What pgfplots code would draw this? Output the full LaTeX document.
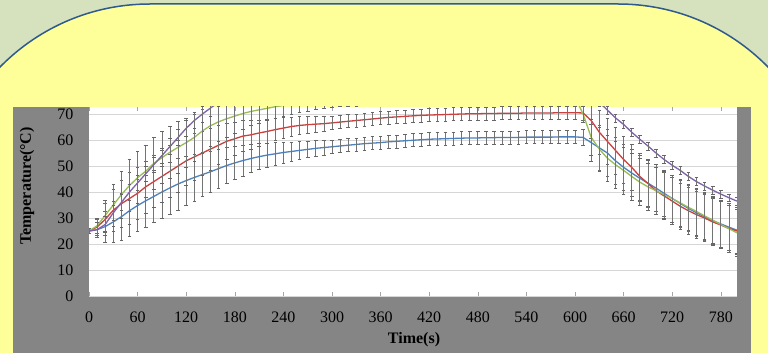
\documentclass[border=0pt]{standalone}
\usepackage{pgfplots}
\pgfplotsset{compat=1.18}
\usepackage{pgfplotstable}
\usepackage{fontspec}
\setmainfont{Liberation Serif}
\definecolor{bggreen}{HTML}{D6E1BE}
\definecolor{panelyellow}{HTML}{FFFF99}
\definecolor{borderblue}{HTML}{2E5A8C}
\definecolor{chartgray}{HTML}{858585}
\definecolor{cR}{HTML}{C8413E}
\definecolor{cB}{HTML}{4F81BD}
\definecolor{cG}{HTML}{9BBB59}
\definecolor{cP}{HTML}{7F62A8}

\pgfplotstableread{
t R B G P e pe
0 25 25 25 25 1 1
10 26.5 25.5 27 25.5 3 3
20 29.5 26.7 31 27.5 6 3
30 33 28.5 35 32 8 3
40 35.5 30.5 39 36 9 3
50 37.5 32.8 42.5 40 10 3
60 39.5 34.8 45.5 43.5 10 3
70 42 36.6 48 47 10 3
80 44 38.3 51 50.5 10 3
90 46 40 53.2 54 10 3
100 48 41.6 55.3 57.5 10 3
110 50 43.1 57.2 61 10 3
120 52 44.4 59 64.5 9.5 3
130 53.5 45.6 61 67.5 9 3
140 55 46.7 63.5 70 8.5 3
150 56.5 47.8 65.5 72.3 8 3
160 58 49 67 74.5 7.5 1.5
170 59.5 50.2 68.2 76.5 7 1.5
180 60.5 51.2 69.2 78 6.5 1.5
190 61.5 52.1 70.2 79.3 6 1.5
200 62 52.9 71 80.3 5.5 1.5
210 62.7 53.6 71.6 81 5 1.5
220 63.3 54.2 72.2 81.6 4.6 1.5
230 64 54.7 72.8 82 4.3 1.5
240 64.6 55.2 73.3 82.4 4 1.5
250 65.2 55.6 73.7 82.7 3.7 1.5
260 65.6 56 74.1 83 3.4 1.5
270 65.9 56.4 74.4 83.2 3.2 1.5
280 66.1 56.8 74.7 83.4 3 1.5
290 66.3 57.1 75 83.6 2.8 1.5
300 66.6 57.4 75.2 83.7 2.6 1.5
310 66.9 57.7 75.4 83.8 2.5 1.5
320 67.2 58 75.5 83.9 2.5 1.5
330 67.5 58.3 75.6 84 2.5 1.5
340 67.8 58.6 75.7 84 2.5 1.5
350 68.1 58.8 75.8 84.1 2.5 1.5
360 68.4 59 75.9 84.1 2.5 1.5
370 68.7 59.3 76 84.2 2.5 1.5
380 68.9 59.5 76 84.2 2.5 1.5
390 69.1 59.7 76.1 84.2 2.5 1.5
400 69.3 59.9 76.1 84.3 2.5 1.5
410 69.5 60.1 76.2 84.3 2.5 1.5
420 69.6 60.3 76.2 84.3 2.5 1.5
430 69.7 60.4 76.2 84.3 2.5 1.5
440 69.8 60.5 76.3 84.4 2.5 1.5
450 69.9 60.6 76.3 84.4 2.5 1.5
460 70 60.7 76.3 84.4 2.5 1.5
470 70.1 60.8 76.4 84.4 2.5 1.5
480 70.1 60.8 76.4 84.4 2.5 1.5
490 70.2 60.9 76.4 84.5 2.5 1.5
500 70.2 60.9 76.4 84.5 2.5 1.5
510 70.3 61 76.5 84.5 2.5 1.5
520 70.3 61 76.5 84.5 2.5 1.5
530 70.3 61 76.5 84.5 2.5 1.5
540 70.4 61.1 76.5 84.5 2.5 1.5
550 70.4 61.1 76.5 84.5 2.5 1.5
560 70.4 61.1 76.5 84.5 2.5 1.5
570 70.4 61.1 76.5 84.5 2.5 1.5
580 70.5 61.2 76.5 84.5 2.5 1.5
590 70.5 61.2 76.5 84.5 2.5 1.5
600 70.5 61.2 76.5 84.5 2.5 1.5
610 70.4 61 70 83 3 1.5
620 67.5 59 61 79 7 1.5
630 63 57 56.5 74.5 8.5 1.5
640 59.5 55 53 71.5 9 1.5
650 56 52 50.5 68.5 9 1.5
660 52.5 49.5 48.3 66 9 1.5
670 49.5 47.3 46 63 9 1.5
680 46 45.3 43.8 60.3 9 1.5
690 43.3 43.4 42 57.7 9 1.5
700 40.5 41.5 40.5 55 9 1.5
710 38.5 39.5 39 52.5 9 1.5
720 36.5 37.5 37.5 50.3 9 1.5
730 34.5 35.6 35.8 48.3 9 1.5
740 32.8 33.7 34.1 46 9 1.5
750 31.3 32 32.5 44 9 1.5
760 30 30.5 30.8 42.3 9 1.5
770 28.5 29 29.2 40.7 9 1.5
780 27.3 27.7 27.5 39.2 9 1.5
790 26 26.5 25.9 37.8 9 1.5
800 25 25.3 24.3 36.5 9 1.5
}\data

\begin{document}
\begin{tikzpicture}[x=1pt,y=1pt]
\useasboundingbox (0,0) rectangle (768,353);
\begin{scope}
\clip (0,0) rectangle (768,353);
\fill[bggreen] (0,0) rectangle (768,353);
\path[fill=panelyellow, draw=borderblue, line width=1.5pt]
  (-60,-10) -- (-60,139) arc[start angle=180, end angle=90, radius=210]
  -- (618,349) arc[start angle=90, end angle=0, radius=210] -- (828,-10) -- cycle;
\fill[chartgray] (13,0) rectangle (751,246);
\end{scope}
\begin{axis}[
  at={(89pt,57pt)}, anchor=south west,
  scale only axis, width=648pt, height=189pt,
  xmin=0, xmax=800, ymin=0, ymax=72.7,
  xtick={0,60,...,780}, ytick={0,10,...,70},
  axis background/.style={fill=white},
  axis line style={draw=none},
  ymajorgrids, grid style={color=black!16, line width=0.9pt},
  xtick style={draw=black!35, line width=0.6pt},
  ytick style={draw=none},
  tick align=inside, major tick length=4pt,
  tick label style={font=\fontsize{16}{16}\selectfont, text=black},
  /pgf/number format/assume math mode=true,
  yticklabel style={xshift=-12pt},
  xticklabel style={yshift=-12pt},
  every axis plot/.append style={line width=1.3pt},
  error bars/error bar style={line width=0.7pt, draw=black!55},
  error bars/error mark options={rotate=90, mark size=1.8pt, line width=0.6pt, draw=black!60},
]
\addplot[color=cB, error bars/.cd, y dir=both, y explicit] table[x=t, y=B, y error=e]{\data};
\addplot[color=cR, error bars/.cd, y dir=both, y explicit] table[x=t, y=R, y error=e]{\data};
\addplot[color=cG, error bars/.cd, y dir=both, y explicit] table[x=t, y=G, y error=e]{\data};
\addplot[color=cP, error bars/.cd, y dir=both, y explicit] table[x=t, y=P, y error=pe]{\data};
\end{axis}
\node[font=\bfseries\fontsize{16}{16}\selectfont, text=black] at (414,13) {Time(s)};
\node[font=\bfseries\fontsize{16}{16}\selectfont, text=black, rotate=90] at (27,167) {Temperature(°C)};
\end{tikzpicture}
\end{document}
